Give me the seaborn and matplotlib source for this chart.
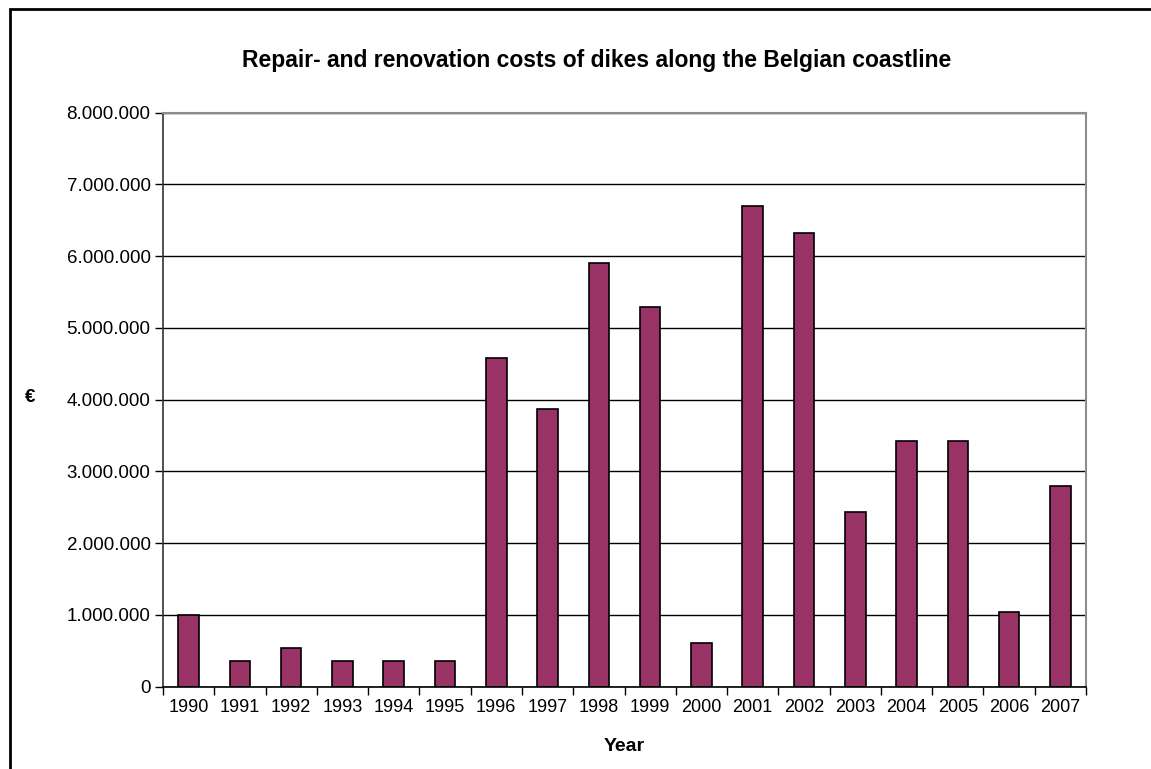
import matplotlib
matplotlib.use("Agg")
import matplotlib.pyplot as plt  # noqa: E402
import matplotlib.ticker as mticker  # noqa: E402
import numpy as np  # noqa: E402
import pandas as pd  # noqa: E402
import seaborn as sns  # noqa: E402
from matplotlib.patches import Rectangle  # noqa: E402

years = ["1990", "1991", "1992", "1993", "1994", "1995", "1996", "1997", "1998",
         "1999", "2000", "2001", "2002", "2003", "2004", "2005", "2006", "2007"]
costs = [1000000, 355000, 535000, 355000, 355000, 355000, 4580000, 3870000, 5910000,
         5295000, 600000, 6700000, 6320000, 2430000, 3420000, 3420000, 1043000, 2800000]
y_ticks = [0, 1000000, 2000000, 3000000, 4000000, 5000000, 6000000, 7000000, 8000000]

TITLE = "Repair- and renovation costs of dikes along the Belgian coastline"

sns.set_style("white")
plt.rcParams["font.family"] = ["Liberation Sans", "DejaVu Sans"]
plt.rcParams["text.color"] = "black"
plt.rcParams["xtick.color"] = "black"
plt.rcParams["ytick.color"] = "black"
plt.rcParams["axes.labelcolor"] = "black"

df = pd.DataFrame({"year": years, "cost": costs})

fig = plt.figure(figsize=(11.51, 7.69), dpi=100)
ax = fig.add_axes([163 / 1151, 1 - 686.5 / 769, (1086 - 163) / 1151, (686.5 - 112.6) / 769])

ax.set_axisbelow(True)
ax.yaxis.grid(True, color="black", linewidth=1)
sns.barplot(data=df, x="year", y="cost", color="#993366", edgecolor="black",
            linewidth=1.2, width=0.4, saturation=1, ax=ax)

ax.set_xlim(-0.5, len(years) - 0.5)
ax.set_ylim(0, 8000000)
ax.set_yticks(y_ticks)
ax.yaxis.set_major_formatter(mticker.FuncFormatter(lambda v, p: f"{int(v):,}".replace(",", ".")))

# ticks between categories, labels centred under bars
ax.set_xticks(np.arange(-0.5, len(years), 1.0), minor=True)
ax.tick_params(axis="x", which="major", length=0, labelsize=13, pad=9)
ax.tick_params(axis="x", which="minor", length=6, width=1, color="black", direction="out",
               bottom=True)
ax.tick_params(axis="y", which="major", length=6, width=1, color="black", direction="out",
               labelsize=13.5, pad=3, left=True)

for side in ["top", "right"]:
    ax.spines[side].set_color("#8c8c8c")
    ax.spines[side].set_linewidth(1.5)
ax.spines["left"].set_color("#333333")
ax.spines["bottom"].set_color("black")
for side in ["left", "bottom"]:
    ax.spines[side].set_linewidth(1.2)

ax.set_xlabel("Year", fontsize=14, fontweight="bold", labelpad=16)
ax.set_ylabel("")
fig.text(30 / 1151, 1 - 397 / 769, "€", fontsize=13.5, fontweight="bold", ha="center", va="center")
fig.text(597 / 1151, 1 - 60 / 769, TITLE, fontsize=16.5, fontweight="bold", ha="center", va="center")

# outer chart border (cropped on right and bottom)
fig.patches.append(Rectangle((10 / 1151, -0.5), 2.0, 0.5 + 1 - 8.5 / 769, transform=fig.transFigure,
                             fill=False, edgecolor="black", linewidth=2, clip_on=False))

fig.savefig("out.png", dpi=100)
